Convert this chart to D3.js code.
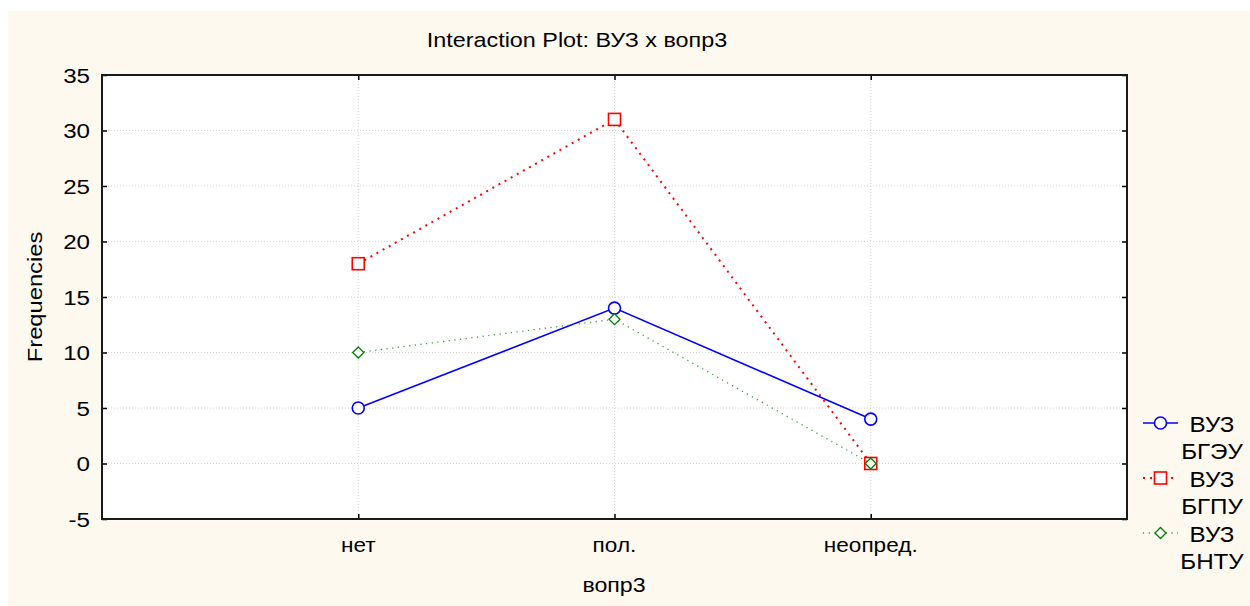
<!DOCTYPE html>
<html>
<head>
<meta charset="utf-8">
<script src="https://cdn.jsdelivr.net/npm/d3@7"></script>
<style>
    body { margin: 0; background: #ffffff; }
    svg text { font-family: Arial, "Liberation Sans", sans-serif; fill: #000; }
</style>
</head>
<body>
<div id="chart"></div>
<script>
// categories of the factor on the x-axis
var categories = ["нет", "пол.", "неопред."];
var yTicks = [-5, 0, 5, 10, 15, 20, 25, 30, 35];

// frequencies per group of ВУЗ
var seriesNames = [["ВУЗ", "БГЭУ"], ["ВУЗ", "БГПУ"], ["ВУЗ", "БНТУ"]];
var valuesBGEU = [5, 14, 4];
var valuesBGPU = [18, 31, 0];
var valuesBNTU = [10, 13, 0];

var series = [
    { name: seriesNames[0], values: valuesBGEU, color: "#0000ff", dash: null, width: 1.6, marker: "circle" },
    { name: seriesNames[1], values: valuesBGPU, color: "#ff0000", dash: "2,5", width: 2, marker: "square" },
    { name: seriesNames[2], values: valuesBNTU, color: "#3a9a3a", dash: "1.2,4.5", width: 1.3, marker: "diamond" }
];

var W = 1250, H = 606;
var plot = { left: 102, top: 75, right: 1127, bottom: 519 };

var svg = d3.select("#chart").append("svg")
    .attr("width", W)
    .attr("height", H);

// the original font runs a bit wider than Arial, so stretch along the text
function addText(parent, x, y, str, size, anchor, stretch, rotate) {
    return parent.append("text")
        .attr("transform", "translate(" + x + "," + y + ")" + (rotate ? " rotate(" + rotate + ")" : "") + " scale(" + stretch + ",1)")
        .attr("text-anchor", anchor)
        .style("font-size", size + "px")
        .text(str);
}

// cream background panel
svg.append("rect")
    .attr("x", 8).attr("y", 11)
    .attr("width", W - 8).attr("height", H - 11)
    .attr("fill", "#fef9ee");

svg.append("rect")
    .attr("x", plot.left).attr("y", plot.top)
    .attr("width", plot.right - plot.left).attr("height", plot.bottom - plot.top)
    .attr("fill", "#ffffff");

var xScale = d3.scalePoint()
    .domain(categories)
    .range([plot.left, plot.right])
    .padding(1);

var yScale = d3.scaleLinear()
    .domain([-5, 35])
    .range([plot.bottom, plot.top]);

// grid lines (dotted)
svg.append("g").selectAll("line")
    .data(yTicks.filter(function (d) { return d > -5 && d < 35; }))
    .enter().append("line")
    .attr("x1", plot.left).attr("x2", plot.right)
    .attr("y1", function (d) { return yScale(d); })
    .attr("y2", function (d) { return yScale(d); })
    .attr("stroke", "#d4d4d4")
    .attr("stroke-dasharray", "1,2");

svg.append("g").selectAll("line")
    .data(categories)
    .enter().append("line")
    .attr("x1", function (d) { return xScale(d); })
    .attr("x2", function (d) { return xScale(d); })
    .attr("y1", plot.top).attr("y2", plot.bottom)
    .attr("stroke", "#d4d4d4")
    .attr("stroke-dasharray", "1,2");

// axes: ticks point inward on all four sides
svg.append("g")
    .attr("transform", "translate(" + plot.left + ",0)")
    .call(d3.axisRight(yScale).tickValues(yTicks).tickSize(5).tickFormat(""))
    .call(function (g) { g.select(".domain").remove(); });

svg.append("g")
    .attr("transform", "translate(" + plot.right + ",0)")
    .call(d3.axisLeft(yScale).tickValues(yTicks).tickSize(5).tickFormat(""))
    .call(function (g) { g.select(".domain").remove(); });

svg.append("g")
    .attr("transform", "translate(0," + plot.top + ")")
    .call(d3.axisBottom(xScale).tickSize(5).tickFormat(""))
    .call(function (g) { g.select(".domain").remove(); });

svg.append("g")
    .attr("transform", "translate(0," + plot.bottom + ")")
    .call(d3.axisTop(xScale).tickSize(5).tickFormat(""))
    .call(function (g) { g.select(".domain").remove(); });

svg.selectAll(".tick line").attr("stroke", "#000").attr("stroke-width", 1.5);

// y tick labels
var yLabels = svg.append("g");
yTicks.forEach(function (d) {
    addText(yLabels, 90, yScale(d) + 7.5, d, 21, "end", 1.15);
});

// x tick labels
var xLabels = svg.append("g");
categories.forEach(function (d) {
    addText(xLabels, xScale(d), 552, d, 20, "middle", 1.13);
});

// plot frame
svg.append("rect")
    .attr("x", plot.left).attr("y", plot.top)
    .attr("width", plot.right - plot.left).attr("height", plot.bottom - plot.top)
    .attr("fill", "none")
    .attr("stroke", "#1a1a1a")
    .attr("stroke-width", 2);

// titles
addText(svg, 577, 47, "Interaction Plot: ВУЗ x вопр3", 20.5, "middle", 1.14);
addText(svg, 614, 592, "вопр3", 20.5, "middle", 1.13);
addText(svg, 42, 297, "Frequencies", 21, "middle", 1.13, -90);

function drawMarker(g, type, x, y, color) {
    if (type === "circle") {
        g.append("circle").attr("cx", x).attr("cy", y).attr("r", 6)
            .attr("fill", "#fff").attr("stroke", color).attr("stroke-width", 1.6);
    } else if (type === "square") {
        g.append("rect").attr("x", x - 6).attr("y", y - 6).attr("width", 12).attr("height", 12)
            .attr("fill", "#fff").attr("stroke", color).attr("stroke-width", 1.6);
    } else {
        g.append("path")
            .attr("d", "M" + x + "," + (y - 5.5) + "L" + (x + 5.5) + "," + y + "L" + x + "," + (y + 5.5) + "L" + (x - 5.5) + "," + y + "Z")
            .attr("fill", "#fff").attr("stroke", "#008000").attr("stroke-width", 1.3);
    }
}

var line = d3.line()
    .x(function (d, i) { return xScale(categories[i]); })
    .y(function (d) { return yScale(d); });

series.forEach(function (s) {
    var g = svg.append("g");
    g.append("path")
        .datum(s.values)
        .attr("d", line)
        .attr("fill", "none")
        .attr("stroke", s.color)
        .attr("stroke-width", s.width)
        .attr("stroke-dasharray", s.dash);
    s.values.forEach(function (v, i) {
        drawMarker(g, s.marker, xScale(categories[i]), yScale(v), s.color);
    });
});

// legend
series.forEach(function (s, i) {
    var cy = 423 + i * 55;
    var g = svg.append("g");
    g.append("line")
        .attr("x1", 1143).attr("x2", 1178)
        .attr("y1", cy).attr("y2", cy)
        .attr("stroke", s.color)
        .attr("stroke-width", s.width)
        .attr("stroke-dasharray", s.dash);
    drawMarker(g, s.marker, 1160.5, cy, s.color);
    addText(g, 1212, cy + 9, s.name[0], 22, "middle", 1.1);
    addText(g, 1212, cy + 36, s.name[1], 22, "middle", 1.1);
});
</script>
</body>
</html>
